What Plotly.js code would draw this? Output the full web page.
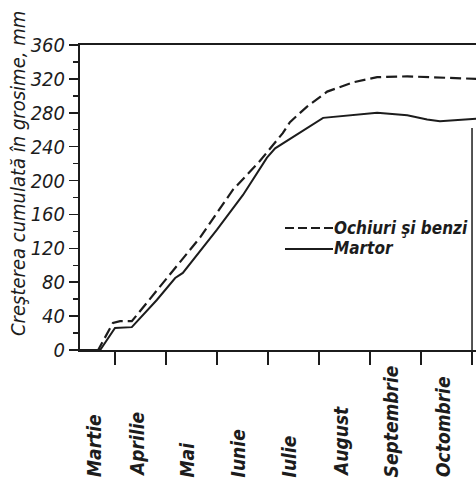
<!DOCTYPE html>
<html>
<head>
<meta charset="utf-8">
<script src="https://cdn.plot.ly/plotly-3.0.1.min.js"></script>
<style>
  html, body { margin: 0; padding: 0; background: #ffffff; }
  #chart { width: 476px; height: 486px; }
</style>
</head>
<body>
<div id="chart"></div>
<script>
// Months (x = months elapsed since 1 March)
const months = ["Martie", "Aprilie", "Mai", "Iunie", "Iulie", "August", "Septembrie", "Octombrie"];

// Series: cumulative growth in thickness, mm
const ochiuriX = [0.314, 0.67, 0.96, 1.10, 1.33, 2.04, 2.67, 3.31, 3.84, 4.29, 4.43, 4.76, 5.16, 5.67, 6.14, 6.73, 7.31, 7.90, 8.08];
const ochiuriY = [0, 0, 32, 34, 34, 87, 133, 189, 223, 256, 269, 287, 305, 316, 322, 323, 322, 321, 320];

const martorX = [0.314, 0.71, 1.00, 1.33, 1.82, 2.18, 2.33, 3.00, 3.51, 3.98, 4.14, 5.08, 6.14, 6.73, 7.12, 7.37, 8.08];
const martorY = [0, 0, 26, 27, 59, 85, 91, 142, 183, 227, 238, 274, 280, 277, 272, 270, 273];

const yTicks = [0, 40, 80, 120, 160, 200, 240, 280, 320, 360];
const seriesNames = ["Ochiuri şi benzi", "Martor"];
const yTitle = "Creşterea cumulată în grosime, mm";

const FONT = '"DejaVu Sans Condensed", "DejaVu Sans", sans-serif';
const INK = '#1c1c1c';

const xMin = 0.314, xMax = 8.078;

const traces = [
  { x: ochiuriX, y: ochiuriY, type: 'scatter', mode: 'lines', name: seriesNames[0],
    line: { color: INK, width: 2.2, dash: '11px,5px' }, showlegend: false },
  { x: martorX, y: martorY, type: 'scatter', mode: 'lines', name: seriesNames[1],
    line: { color: INK, width: 2 }, showlegend: false }
];

const px2x = p => (p - 80) / 396;
const py2y = p => (350 - p) / 305;

// month labels centred on each month's visible span, slightly left, bottom-aligned
const monthAnn = months.map((m, i) => ({
  text: m, xref: 'x', yref: 'paper',
  x: (Math.max(i, xMin) + i + 1) / 2 - 0.08,
  y: py2y(479),
  textangle: -90, xanchor: 'center', yanchor: 'bottom', showarrow: false,
  font: { family: FONT, size: 19, color: INK, style: 'italic', weight: 'bold' }
}));

const annotations = monthAnn.concat([
  { text: yTitle, xref: 'paper', yref: 'paper', x: px2x(18), y: py2y(174),
    textangle: -90, xanchor: 'center', yanchor: 'middle', showarrow: false,
    font: { family: FONT, size: 20, color: INK, style: 'italic' } },
  { text: seriesNames[0], xref: 'paper', yref: 'paper', x: px2x(332), y: py2y(228),
    xanchor: 'left', yanchor: 'middle', showarrow: false,
    font: { family: FONT, size: 17, color: INK, style: 'italic', weight: 'bold' } },
  { text: seriesNames[1], xref: 'paper', yref: 'paper', x: px2x(332), y: py2y(248),
    xanchor: 'left', yanchor: 'middle', showarrow: false,
    font: { family: FONT, size: 17, color: INK, style: 'italic', weight: 'bold' } }
]);

const shapes = [
  // legend samples
  { type: 'line', xref: 'paper', yref: 'paper', x0: px2x(285), x1: px2x(333), y0: py2y(228), y1: py2y(228),
    line: { color: INK, width: 2.2, dash: '9px,4px' } },
  { type: 'line', xref: 'paper', yref: 'paper', x0: px2x(285), x1: px2x(333), y0: py2y(249), y1: py2y(249),
    line: { color: INK, width: 2 } },
  // right frame line (partial, as in the print)
  { type: 'line', xref: 'x', yref: 'y', x0: 8, x1: 8, y0: 0, y1: 262,
    line: { color: INK, width: 1.5 } }
];

const layout = {
  width: 476, height: 486,
  margin: { l: 80, r: 0, t: 45, b: 136 },
  paper_bgcolor: '#ffffff', plot_bgcolor: '#ffffff',
  showlegend: false,
  xaxis: {
    range: [xMin, xMax], showgrid: false, zeroline: false,
    showline: true, linecolor: INK, linewidth: 2, mirror: true,
    tickmode: 'array', tickvals: [1, 2, 3, 4, 5, 6, 7, 8],
    ticks: 'outside', ticklen: 13, tickwidth: 2, tickcolor: INK,
    showticklabels: false
  },
  yaxis: {
    range: [0, 360], showgrid: false, zeroline: false,
    showline: true, linecolor: INK, linewidth: 2,
    tickmode: 'array', tickvals: yTicks,
    ticks: 'outside', ticklen: 9, tickwidth: 1.5, tickcolor: INK,
    minor: { tickmode: 'linear', dtick: 20, ticks: 'outside', ticklen: 5, tickwidth: 1.5, tickcolor: INK },
    tickfont: { family: FONT, size: 20, color: INK, style: 'italic' }
  },
  annotations: annotations,
  shapes: shapes
};

Plotly.newPlot('chart', traces, layout, { displayModeBar: false, staticPlot: true });
</script>
</body>
</html>
